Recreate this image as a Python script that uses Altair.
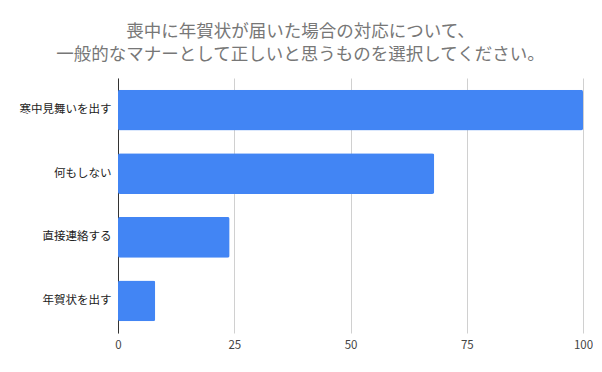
import altair as alt
import pandas as pd

categories = ["寒中見舞いを出す", "何もしない", "直接連絡する", "年賀状を出す"]
values = [100, 68, 24, 8]
x_ticks = [0, 25, 50, 75, 100]
title_lines = ["喪中に年賀状が届いた場合の対応について、", "一般的なマナーとして正しいと思うものを選択してください。"]

df = pd.DataFrame({"category": categories, "value": values})

FONT = "Noto Sans CJK JP"

chart = alt.Chart(df).mark_bar(color="#4285F4", cornerRadius=2).encode(
    x=alt.X("value:Q", scale=alt.Scale(domain=[0, 100], nice=False),
            axis=alt.Axis(values=x_ticks, title=None, domain=False, ticks=False,
                          grid=True, gridColor="#d0d0d0", labelFont=FONT,
                          labelFontSize=11.5, labelColor="#444444", labelPadding=6,
                          labelFlush=False)),
    y=alt.Y("category:N", sort=categories,
            scale=alt.Scale(paddingInner=0.36, paddingOuter=0.185),
            axis=alt.Axis(title=None, domain=True, domainColor="#333333", ticks=False,
                          labelFont=FONT, labelFontSize=11.5, labelColor="#222222",
                          labelPadding=7, grid=False)),
).properties(
    width=465,
    height=255,
    padding={"left": 110, "top": 70, "right": 10, "bottom": 20},
    autosize=alt.AutoSizeParams(type="none"),
    title=alt.TitleParams(text=title_lines, font=FONT, fontSize=17.5, fontWeight="normal",
                          color="#777777", anchor="middle", dx=-50, offset=15,
                          lineHeight=23),
).configure_view(stroke=None)

chart.save("out.html", embed_options={"renderer": "svg", "actions": False})
